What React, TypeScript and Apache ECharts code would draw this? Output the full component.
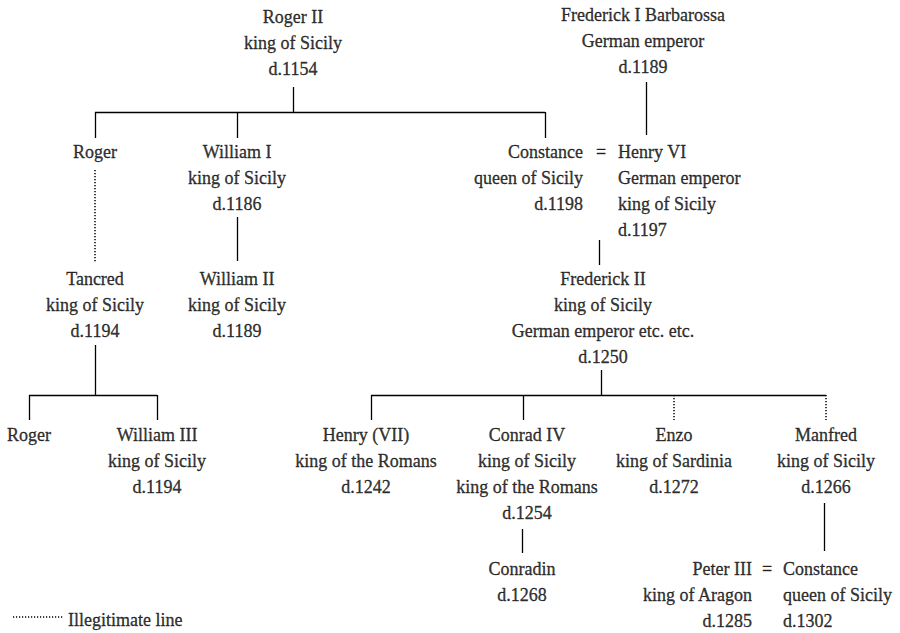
import React, { useEffect, useRef } from "react";
import * as echarts from "echarts";

// People in the family tree: label lines
const personLines: string[][] = [
  ["Roger II", "king of Sicily", "d.1154"],
  ["Frederick I Barbarossa", "German emperor", "d.1189"],
  ["Roger"],
  ["William I", "king of Sicily", "d.1186"],
  ["Constance", "queen of Sicily", "d.1198"],
  ["Henry VI", "German emperor", "king of Sicily", "d.1197"],
  ["Tancred", "king of Sicily", "d.1194"],
  ["William II", "king of Sicily", "d.1189"],
  ["Frederick II", "king of Sicily", "German emperor etc. etc.", "d.1250"],
  ["Roger"],
  ["William III", "king of Sicily", "d.1194"],
  ["Henry (VII)", "king of the Romans", "d.1242"],
  ["Conrad IV", "king of Sicily", "king of the Romans", "d.1254"],
  ["Enzo", "king of Sardinia", "d.1272"],
  ["Manfred", "king of Sicily", "d.1266"],
  ["Conradin", "d.1268"],
  ["Peter III", "king of Aragon", "d.1285"],
  ["Constance", "queen of Sicily", "d.1302"],
];

// Layout of each person (anchor x, centre of first line y, alignment)
const personX = [293, 643, 95, 237, 583, 618, 95, 237, 603, 29, 157, 366, 527, 674, 826, 522, 752, 783];
const personY = [17, 15, 152, 152, 152, 152, 279, 279, 279, 435, 435, 435, 435, 435, 435, 569, 569, 569];
const personAlign = [
  "center", "center", "center", "center", "right", "left", "center", "center", "center",
  "center", "center", "center", "center", "center", "center", "center", "right", "left",
];

// Marriage signs
const marriageX = [601, 767];
const marriageY = [152, 569];

// Descent lines
const solidLines: number[][][] = [
  [[293, 87], [293, 112]],
  [[95, 112], [545, 112]],
  [[95, 112], [95, 138]],
  [[237, 112], [237, 138]],
  [[545, 112], [545, 138]],
  [[646, 82], [646, 135]],
  [[237, 217], [237, 261]],
  [[599, 240], [599, 265]],
  [[95, 345], [95, 395]],
  [[29, 395], [157, 395]],
  [[29, 395], [29, 420]],
  [[157, 395], [157, 420]],
  [[601, 370], [601, 395]],
  [[371, 395], [826, 395]],
  [[371, 395], [371, 420]],
  [[523, 395], [523, 420]],
  [[522, 529], [522, 553]],
  [[824, 503], [824, 551]],
];
const dottedLines: number[][][] = [
  [[95, 170], [95, 262]],
  [[674, 395], [674, 420]],
  [[826, 395], [826, 420]],
  [[13, 617], [63, 617]],
];

const legendText = "Illegitimate line";
const legendPos = [68, 620];

const FONT = "Liberation Serif";
const LH = 26;

export default function App() {
  const ref = useRef<HTMLDivElement>(null);
  useEffect(() => {
    if (!ref.current) return;
    const chart = echarts.init(ref.current, undefined, { renderer: "svg" });
    const mkLabel = (text: string, align: string) => ({
      show: true,
      formatter: text,
      align,
      position: [0, 0],
      verticalAlign: "top",
      fontFamily: FONT,
      fontSize: 18,
      lineHeight: LH,
      color: "#000",
      textBorderColor: "#000",
      textBorderWidth: 0.35,
    });
    const personData = personLines.map((lines, i) => ({
      value: [personX[i], personY[i] - LH / 2],
      label: mkLabel(lines.join("\n"), personAlign[i]),
    }));
    const marriageData = marriageX.map((x, i) => ({
      value: [x, marriageY[i] - LH / 2],
      label: mkLabel("=", "center"),
    }));
    const legendData = [
      { value: [legendPos[0], legendPos[1] - LH / 2], label: mkLabel(legendText, "left") },
    ];
    chart.setOption({
      animation: false,
      backgroundColor: "#fff",
      textStyle: { fontFamily: FONT },
      grid: { left: 0, right: 0, top: 0, bottom: 0, containLabel: false },
      xAxis: { type: "value", min: 0, max: 900, show: false },
      yAxis: { type: "value", min: 0, max: 633, inverse: true, show: false },
      series: [
        {
          type: "lines",
          coordinateSystem: "cartesian2d",
          silent: true,
          lineStyle: { color: "#000", width: 1.3, opacity: 1 },
          data: solidLines.map((c) => ({ coords: c })),
        },
        {
          type: "lines",
          coordinateSystem: "cartesian2d",
          silent: true,
          lineStyle: { color: "#000", width: 1.5, type: [1.2, 1.8], opacity: 1 },
          data: dottedLines.map((c) => ({ coords: c })),
        },
        {
          type: "scatter",
          silent: true,
          symbolSize: 0,
          label: { show: true, fontFamily: FONT, fontSize: 18, lineHeight: LH },
          data: [...personData, ...marriageData, ...legendData],
        },
      ],
    });
    return () => chart.dispose();
  }, []);
  return (
    <div
      ref={ref}
      style={{ position: "absolute", left: 0, top: 0, width: 900, height: 633 }}
    />
  );
}
